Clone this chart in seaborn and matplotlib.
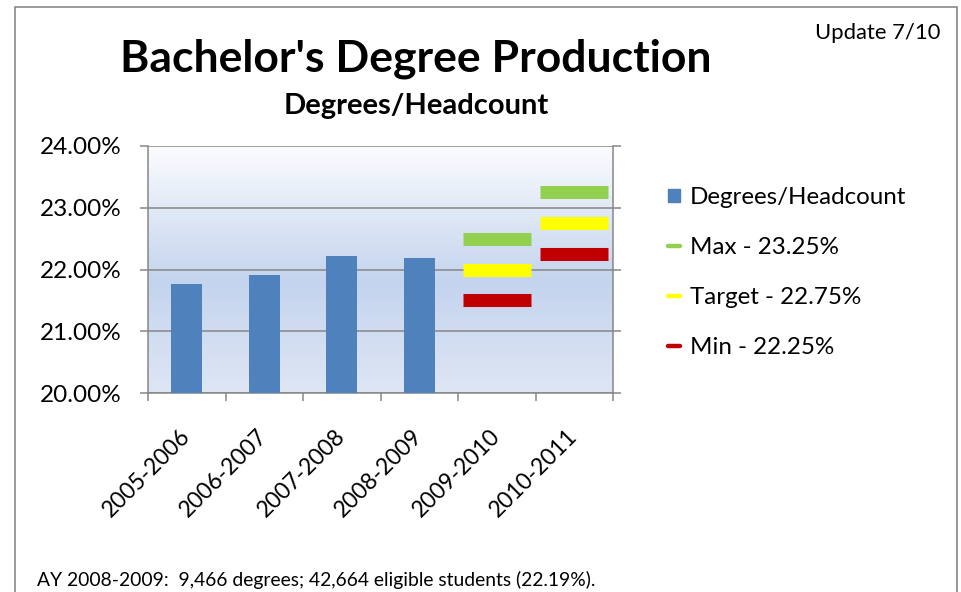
import numpy as np
import pandas as pd
import matplotlib
matplotlib.use("Agg")
import matplotlib.pyplot as plt
import seaborn as sns
from matplotlib.colors import LinearSegmentedColormap
from matplotlib.patches import Patch, Rectangle
from matplotlib.lines import Line2D
from matplotlib.ticker import FuncFormatter

# data
years = ["2005-2006", "2006-2007", "2007-2008", "2008-2009", "2009-2010", "2010-2011"]
actual_years = ["2005-2006", "2006-2007", "2007-2008", "2008-2009"]
actual_rate = [21.76, 21.91, 22.22, 22.19]
goal_years = ["2009-2010", "2010-2011"]
max_goal = [22.50, 23.25]
target_goal = [22.00, 22.75]
min_goal = [21.50, 22.25]
legend_labels = ["Degrees/Headcount", "Max - 23.25%", "Target - 22.75%", "Min - 22.25%"]

BAR = "#4F81BD"
GREEN = "#92D050"
YELLOW = "#FFFF00"
RED = "#C00000"
GRAY = "#868686"

sns.set_theme(style="white")
plt.rcParams["font.family"] = ["Lato", "DejaVu Sans"]
plt.rcParams["text.color"] = "black"

fig = plt.figure(figsize=(9.61, 5.92), dpi=100)
ax = fig.add_axes([148 / 961, 1 - 393 / 592, (613 - 148) / 961, (393 - 146) / 592])

# gradient plot area
grad_cmap = LinearSegmentedColormap.from_list(
    "xl", [(0.0, "#FBFCFE"), (0.55, "#C4D4EE"), (1.0, "#DEE6F4")])
grad = np.linspace(0, 1, 256).reshape(-1, 1)
ax.imshow(grad, cmap=grad_cmap, extent=[0, 1, 0, 1], transform=ax.transAxes,
          aspect="auto", zorder=-2, origin="upper")

df = pd.DataFrame({"year": actual_years, "rate": actual_rate})
sns.barplot(data=df, x="year", y="rate", order=years, color=BAR, width=0.4,
            errorbar=None, saturation=1, linewidth=0, ax=ax, zorder=3)

pos = [years.index(y) for y in goal_years]
for vals, col in [(max_goal, GREEN), (target_goal, YELLOW), (min_goal, RED)]:
    ax.hlines(vals, [p - 0.44 for p in pos], [p + 0.44 for p in pos],
              colors=col, linewidth=9.4, zorder=4)

ax.set_xlim(-0.5, len(years) - 0.5)
ax.set_ylim(20, 24)
ax.set_yticks([20, 21, 22, 23, 24])
ax.yaxis.set_major_formatter(FuncFormatter(lambda v, _: f"{v:.2f}%"))
ax.set_xlabel("")
ax.set_ylabel("")

ax.grid(axis="y", color=GRAY, linewidth=1.1, zorder=1)
ax.set_axisbelow(True)
ax.spines["top"].set_visible(False)
for side in ["left", "bottom", "right"]:
    ax.spines[side].set_color(GRAY)
    ax.spines[side].set_linewidth(1.1)

ax.tick_params(axis="y", left=True, right=True, length=5.5, width=1.1, color=GRAY,
               labelsize=17.5, pad=13.5, labelcolor="black")
ax.set_xticks(np.arange(len(years) + 1) - 0.5, minor=True)
ax.tick_params(axis="x", which="minor", bottom=True, length=5.5, width=1.1, color=GRAY)
ax.tick_params(axis="x", which="major", bottom=False, length=0, pad=29,
               labelsize=16.5, labelcolor="black")
ax.set_xticks(range(len(years)))
ax.set_xticklabels(years, rotation=45, ha="right", va="center", rotation_mode="anchor")

# legend
handles = [Patch(facecolor=BAR, edgecolor=BAR),
           Line2D([0], [0], color=GREEN, lw=3.2),
           Line2D([0], [0], color=YELLOW, lw=3.2),
           Line2D([0], [0], color=RED, lw=3.2)]
fig.legend(handles, legend_labels, loc="center left",
           bbox_to_anchor=(668 / 961, 1 - 272.5 / 592), frameon=False,
           fontsize=17.4, handlelength=0.5, handleheight=0.5, handletextpad=0.42,
           labelspacing=1.2, borderpad=0, borderaxespad=0)

# titles and notes
fig.text(416 / 961, 1 - 59 / 592, "Bachelor's Degree Production", ha="center", va="center",
         fontsize=32, fontweight="bold")
fig.text(416 / 961, 1 - 106 / 592, "Degrees/Headcount", ha="center", va="center",
         fontsize=21, fontweight="bold")
fig.text(940 / 961, 1 - 33 / 592, "Update 7/10", ha="right", va="center", fontsize=15.8)
fig.text(37 / 961, 1 - 580 / 592,
         "AY 2008-2009:  9,466 degrees; 42,664 eligible students (22.19%).",
         ha="left", va="center", fontsize=13.9)

# outer border
fig.add_artist(Rectangle((15 / 961, -0.1), (957 - 15) / 961, 1.1 - 7 / 592,
                         transform=fig.transFigure, fill=False, edgecolor="#7F7F7F",
                         linewidth=1.1))

fig.savefig("out.png", dpi=100)
